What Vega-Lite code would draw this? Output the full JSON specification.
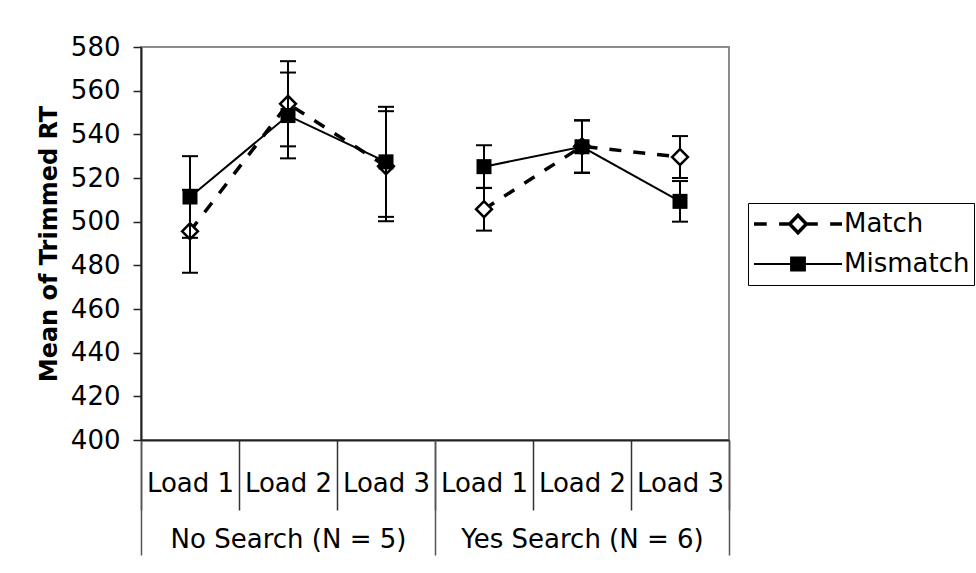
{
  "$schema": "https://vega.github.io/schema/vega-lite/v6.json",
  "autosize": "none",
  "width": 588,
  "height": 393,
  "padding": {"left": 141, "top": 47, "right": 247, "bottom": 133},
  "background": "white",
  "config": {
    "view": {"stroke": "#8c8c8c", "strokeWidth": 2},
    "font": "DejaVu Sans"
  },
  "data": {
    "values": [
      {"series": "Match", "search": "No Search (N = 5)", "cell": "No Search | Load 1", "mean": 495.6, "lo": 476.6, "hi": 514.6},
      {"series": "Match", "search": "No Search (N = 5)", "cell": "No Search | Load 2", "mean": 554.0, "lo": 534.5, "hi": 573.5},
      {"series": "Match", "search": "No Search (N = 5)", "cell": "No Search | Load 3", "mean": 525.4, "lo": 500.2, "hi": 550.6},
      {"series": "Match", "search": "Yes Search (N = 6)", "cell": "Yes Search | Load 1", "mean": 505.7, "lo": 495.9, "hi": 515.5},
      {"series": "Match", "search": "Yes Search (N = 6)", "cell": "Yes Search | Load 2", "mean": 534.5, "lo": 522.5, "hi": 546.5},
      {"series": "Match", "search": "Yes Search (N = 6)", "cell": "Yes Search | Load 3", "mean": 529.6, "lo": 520.0, "hi": 539.2},
      {"series": "Mismatch", "search": "No Search (N = 5)", "cell": "No Search | Load 1", "mean": 511.3, "lo": 492.6, "hi": 530.0},
      {"series": "Mismatch", "search": "No Search (N = 5)", "cell": "No Search | Load 2", "mean": 548.6, "lo": 529.0, "hi": 568.3},
      {"series": "Mismatch", "search": "No Search (N = 5)", "cell": "No Search | Load 3", "mean": 527.4, "lo": 502.2, "hi": 552.6},
      {"series": "Mismatch", "search": "Yes Search (N = 6)", "cell": "Yes Search | Load 1", "mean": 525.2, "lo": 515.4, "hi": 535.0},
      {"series": "Mismatch", "search": "Yes Search (N = 6)", "cell": "Yes Search | Load 2", "mean": 534.3, "lo": 522.3, "hi": 546.3},
      {"series": "Mismatch", "search": "Yes Search (N = 6)", "cell": "Yes Search | Load 3", "mean": 509.3, "lo": 500.0, "hi": 518.6}
    ]
  },
  "layer": [
    {
      "encoding": {
        "x": {
          "field": "cell",
          "type": "nominal",
          "sort": null,
          "scale": {
            "type": "band",
            "paddingInner": 0,
            "paddingOuter": 0,
            "domain": ["No Search | Load 1", "No Search | Load 2", "No Search | Load 3", "Yes Search | Load 1", "Yes Search | Load 2", "Yes Search | Load 3"]
          },
          "axis": {
            "title": null,
            "orient": "bottom",
            "labelExpr": "split(datum.label, ' | ')[1]",
            "labelAngle": 0,
            "labelFont": "DejaVu Sans",
            "labelFontSize": 26,
            "labelColor": "black",
            "labelPadding": -39.5,
            "labelLimit": 300,
            "tickBand": "extent",
            "tickSize": 70,
            "tickColor": "#333333",
            "tickWidth": 1.5,
            "domainColor": "#222222",
            "domainWidth": 2,
            "grid": false
          }
        },
        "y": {
          "field": "mean",
          "type": "quantitative",
          "scale": {"domain": [400, 580], "nice": false, "zero": false},
          "axis": {
            "title": "Mean of Trimmed RT",
            "titleFont": "DejaVu Sans",
            "titleFontSize": 24,
            "titleFontWeight": "bold",
            "titleColor": "black",
            "titlePadding": 9,
            "values": [400, 420, 440, 460, 480, 500, 520, 540, 560, 580],
            "labelFont": "DejaVu Sans",
            "labelFontSize": 26,
            "labelColor": "black",
            "labelPadding": 13,
            "tickSize": 8,
            "tickColor": "#222222",
            "tickWidth": 1.5,
            "domainColor": "#222222",
            "domainWidth": 2,
            "grid": false
          }
        }
      },
      "layer": [
        {
          "transform": [{"filter": "datum.series === 'Match'"}],
          "mark": {"type": "line", "color": "black", "strokeWidth": 3.5, "strokeDash": [12, 12]},
          "encoding": {"detail": {"field": "search"}}
        },
        {
          "transform": [{"filter": "datum.series === 'Match'"}],
          "mark": {"type": "rule", "color": "black", "strokeWidth": 2},
          "encoding": {"y": {"field": "lo", "type": "quantitative"}, "y2": {"field": "hi"}}
        },
        {
          "transform": [{"filter": "datum.series === 'Match'"}],
          "mark": {"type": "tick", "color": "black", "size": 16, "thickness": 2, "opacity": 1},
          "encoding": {"y": {"field": "lo", "type": "quantitative"}}
        },
        {
          "transform": [{"filter": "datum.series === 'Match'"}],
          "mark": {"type": "tick", "color": "black", "size": 16, "thickness": 2, "opacity": 1},
          "encoding": {"y": {"field": "hi", "type": "quantitative"}}
        },
        {
          "transform": [{"filter": "datum.series === 'Match'"}],
          "mark": {"type": "point", "shape": "diamond", "size": 250, "filled": false, "fill": "white", "stroke": "black", "strokeWidth": 2.5, "opacity": 1}
        },
        {
          "transform": [{"filter": "datum.series === 'Mismatch'"}],
          "mark": {"type": "line", "color": "black", "strokeWidth": 2},
          "encoding": {"detail": {"field": "search"}}
        },
        {
          "transform": [{"filter": "datum.series === 'Mismatch'"}],
          "mark": {"type": "rule", "color": "black", "strokeWidth": 2},
          "encoding": {"y": {"field": "lo", "type": "quantitative"}, "y2": {"field": "hi"}}
        },
        {
          "transform": [{"filter": "datum.series === 'Mismatch'"}],
          "mark": {"type": "tick", "color": "black", "size": 16, "thickness": 2, "opacity": 1},
          "encoding": {"y": {"field": "lo", "type": "quantitative"}}
        },
        {
          "transform": [{"filter": "datum.series === 'Mismatch'"}],
          "mark": {"type": "tick", "color": "black", "size": 16, "thickness": 2, "opacity": 1},
          "encoding": {"y": {"field": "hi", "type": "quantitative"}}
        },
        {
          "transform": [{"filter": "datum.series === 'Mismatch'"}],
          "mark": {"type": "point", "shape": "square", "size": 225, "filled": true, "color": "black", "opacity": 1}
        }
      ]
    },
    {
      "transform": [{"filter": "false"}],
      "mark": {"type": "point", "filled": true, "strokeWidth": 3.5, "opacity": 1},
      "encoding": {
        "x": {
          "field": "search",
          "type": "nominal",
          "scale": {"type": "band", "paddingInner": 0, "paddingOuter": 0, "domain": ["No Search (N = 5)", "Yes Search (N = 6)"]},
          "axis": {
            "title": null,
            "orient": "bottom",
            "labelAngle": 0,
            "labelFont": "DejaVu Sans",
            "labelFontSize": 26,
            "labelColor": "black",
            "labelPadding": -28.5,
            "labelLimit": 400,
            "tickBand": "extent",
            "tickSize": 115,
            "tickColor": "#555555",
            "tickWidth": 1.5,
            "domain": false,
            "grid": false
          }
        },
        "shape": {
          "field": "series",
          "type": "nominal",
          "scale": {
            "domain": ["Match", "Mismatch"],
            "range": [
              "M-1,0H-0.71M-0.43,0H-0.19M0.19,0H0.45M0.73,0H1M-0.19,0L0,-0.2L0.19,0L0,0.2Z",
              "M-1,-0.025H1V0.025H-1ZM-0.18,-0.17H0.18V0.17H-0.18Z"
            ]
          },
          "legend": {"title": null, "orient": "none", "legendX": 607, "legendY": 156, "strokeColor": "black", "fillColor": "white", "padding": 4, "symbolSize": 7744, "symbolStrokeWidth": 3.5, "labelFont": "DejaVu Sans", "labelFontSize": 26, "labelColor": "black", "labelOffset": 0, "symbolOffset": 0, "clipHeight": 34, "rowPadding": 6, "labelLimit": 300}
        },
        "fill": {
          "field": "series",
          "type": "nominal",
          "scale": {"domain": ["Match", "Mismatch"], "range": ["white", "black"]},
          "legend": {"title": null, "orient": "none", "legendX": 607, "legendY": 156, "strokeColor": "black", "fillColor": "white", "padding": 4, "symbolSize": 7744, "symbolStrokeWidth": 3.5, "labelFont": "DejaVu Sans", "labelFontSize": 26, "labelColor": "black", "labelOffset": 0, "symbolOffset": 0, "clipHeight": 34, "rowPadding": 6, "labelLimit": 300}
        },
        "stroke": {
          "field": "series",
          "type": "nominal",
          "scale": {"domain": ["Match", "Mismatch"], "range": ["black", "rgba(0,0,0,0)"]},
          "legend": {"title": null, "orient": "none", "legendX": 607, "legendY": 156, "strokeColor": "black", "fillColor": "white", "padding": 4, "symbolSize": 7744, "symbolStrokeWidth": 3.5, "labelFont": "DejaVu Sans", "labelFontSize": 26, "labelColor": "black", "labelOffset": 0, "symbolOffset": 0, "clipHeight": 34, "rowPadding": 6, "labelLimit": 300}
        }
      }
    }
  ],
  "resolve": {"scale": {"x": "independent"}, "axis": {"x": "independent"}}
}
